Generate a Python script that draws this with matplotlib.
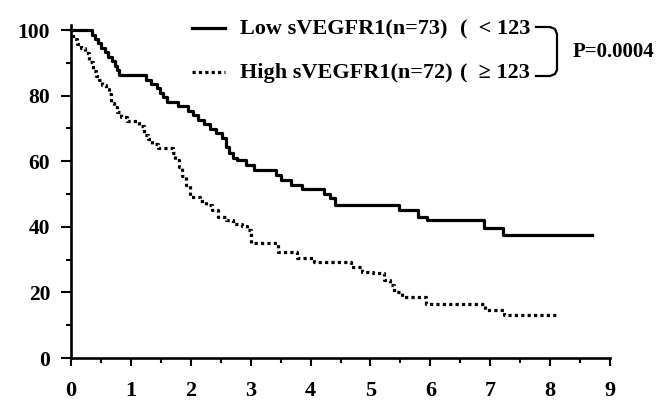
import matplotlib.pyplot as plt
from matplotlib.lines import Line2D
from matplotlib.ticker import MultipleLocator

# Kaplan-Meier step data (years, % survival)
low_t = [0, 0.35, 0.40, 0.45, 0.50, 0.56, 0.62, 0.68, 0.73, 0.77,
         0.80, 1.26, 1.34, 1.43, 1.48, 1.54, 1.60, 1.78, 1.96, 2.04,
         2.12, 2.22, 2.32, 2.42, 2.52, 2.58, 2.64, 2.70, 2.78, 2.92,
         3.05, 3.42, 3.50, 3.68, 3.86, 4.22, 4.33, 4.41, 5.48, 5.80,
         5.94, 6.90, 7.22, 8.70]
low_p = [100, 98.6, 97.3, 95.9, 94.5, 93.2, 91.8, 90.4, 89.0, 87.7,
         86.3, 84.9, 83.6, 82.2, 80.8, 79.5, 78.1, 76.7, 75.3, 74.0,
         72.6, 71.2, 69.9, 68.5, 67.1, 64.4, 62.4, 60.9, 60.3, 58.9,
         57.4, 55.8, 54.3, 52.8, 51.5, 50.0, 48.7, 46.7, 45.2, 43.1,
         42.1, 39.6, 37.6, 37.6]

high_t = [0, 0.04, 0.10, 0.16, 0.24, 0.30, 0.36, 0.42, 0.46, 0.52,
          0.58, 0.63, 0.67, 0.72, 0.76, 0.84, 0.94, 1.13, 1.22, 1.28,
          1.36, 1.46, 1.70, 1.74, 1.80, 1.86, 1.92, 1.98, 2.16, 2.26,
          2.36, 2.46, 2.58, 2.70, 2.86, 2.94, 3.00, 3.46, 3.78, 4.05,
          4.68, 4.86, 5.05, 5.22, 5.32, 5.40, 5.52, 5.92, 6.92, 7.23,
          8.13]
high_p = [100, 97.2, 95.8, 94.4, 93.1, 90.3, 87.5, 86.1, 84.7, 83.3,
          81.9, 80.6, 77.8, 76.4, 75.0, 73.6, 72.2, 70.8, 68.1, 66.7,
          65.3, 63.9, 62.5, 60.4, 58.3, 55.6, 52.8, 49.2, 47.9, 46.5,
          45.1, 43.1, 42.1, 41.0, 40.3, 38.9, 35.0, 32.2, 30.4, 29.2,
          27.8, 26.3, 25.8, 23.8, 22.3, 20.2, 18.6, 16.4, 14.7, 13.0,
          13.0]

low_label = "Low sVEGFR1(n=73)"
high_label = "High sVEGFR1(n=72)"
low_cut = "(  < 123"
high_cut = "(  \u2265 123"
p_text = "P=0.0004"

W, H = 669, 403
font = "Liberation Serif"

fig = plt.figure(figsize=(W / 100, H / 100), dpi=100)
ax = fig.add_axes([71 / W, (H - 358) / H, (610 - 71) / W, (358 - 30) / H])


def px(x, y):
    # pixel position (from top-left) -> figure fraction
    return x / W, 1 - y / H


ax.step(low_t, low_p, where="post", color="black", lw=2.3, clip_on=False)
ax.step(high_t, high_p, where="post", color="black", lw=2.3,
        linestyle=(0, (1, 1)), dash_capstyle="butt", clip_on=False)

ax.set_xlim(0, 9)
ax.set_ylim(0, 100)
ax.xaxis.set_major_locator(MultipleLocator(1))
ax.xaxis.set_minor_locator(MultipleLocator(0.5))
ax.yaxis.set_major_locator(MultipleLocator(20))
ax.yaxis.set_minor_locator(MultipleLocator(10))

for s in ["top", "right"]:
    ax.spines[s].set_visible(False)
for s in ["left", "bottom"]:
    ax.spines[s].set_linewidth(1.9)
ax.spines["left"].set_bounds(0, 101.5)

ax.tick_params(axis="y", which="major", length=7, width=1.5, pad=8)
ax.tick_params(axis="y", which="minor", length=3.5, width=1.5)
ax.tick_params(axis="x", which="major", length=5.5, width=1.5, pad=11)
ax.tick_params(axis="x", which="minor", length=3.5, width=1.5)
for lab in ax.get_yticklabels():
    lab.set_fontfamily(font)
    lab.set_fontweight("bold")
    lab.set_fontsize(15.5)
for lab in ax.get_xticklabels():
    lab.set_fontfamily(font)
    lab.set_fontweight("bold")
    lab.set_fontsize(16)

# legend drawn by hand
for y, ls in [(28, "-"), (72, (0, (1, 1)))]:
    x0, y0 = px(192, y)
    x1, _ = px(225, y)
    fig.add_artist(Line2D([x0, x1], [y0, y0], color="black", lw=2.3,
                          linestyle=ls, dash_capstyle="butt"))

txt = dict(fontfamily=font, fontweight="bold", fontsize=16, va="center")
fig.text(*px(240, 29), low_label, **txt)
fig.text(*px(240, 73), high_label, **txt)
fig.text(*px(460, 29), low_cut, **txt)
fig.text(*px(460, 73), high_cut, **txt)
fig.text(*px(573, 52), p_text, fontfamily=font, fontweight="bold",
         fontsize=15, va="center")

# bracket joining the two groups
bx = [536, 550, 555, 557, 557, 555, 550, 536]
by = [27, 27, 29, 34, 70, 74, 76, 76]
pts = [px(a, b) for a, b in zip(bx, by)]
fig.add_artist(Line2D([p[0] for p in pts], [p[1] for p in pts],
                      color="black", lw=1.6))

fig.savefig("out.png", dpi=100, facecolor="white")
